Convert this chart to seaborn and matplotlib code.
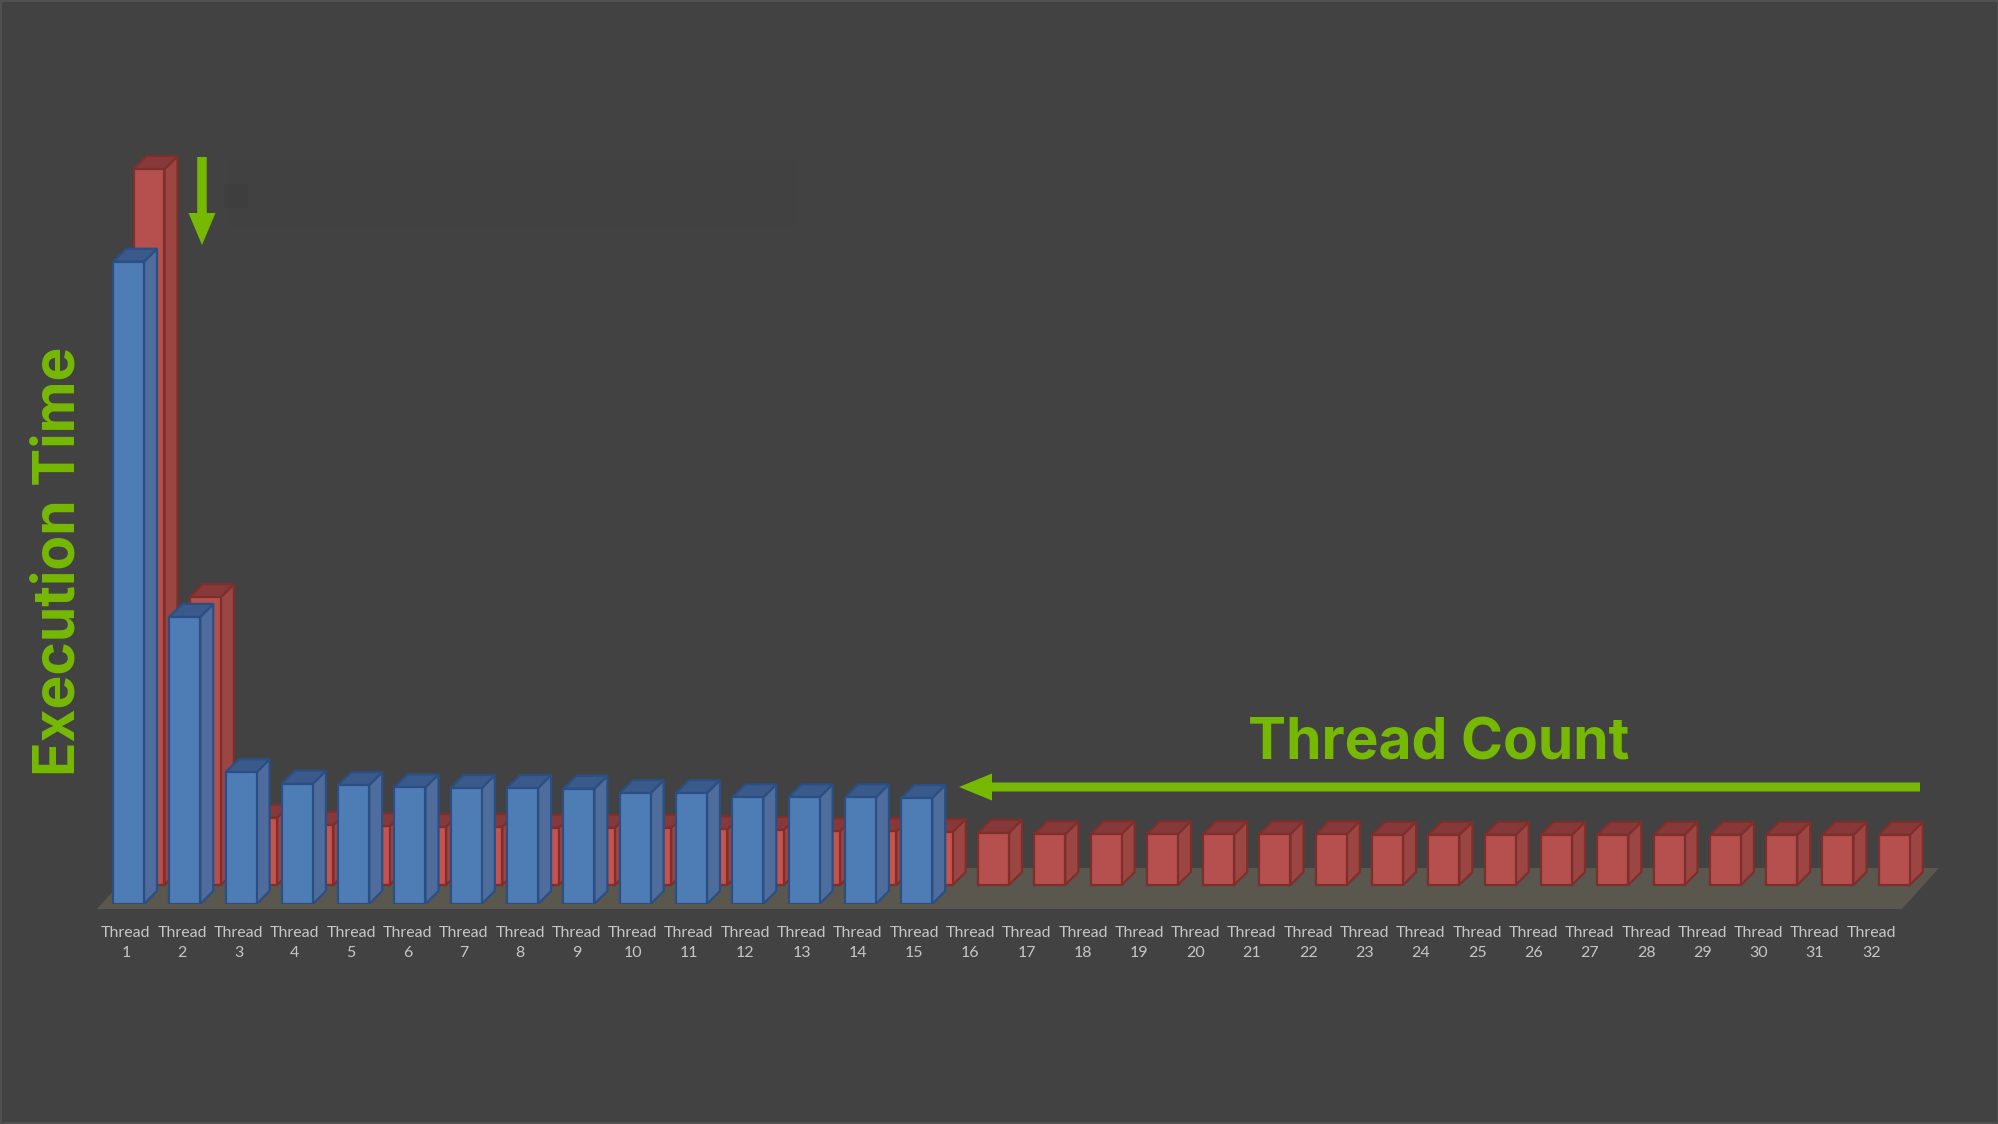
import matplotlib.pyplot as plt
import numpy as np
import pandas as pd
import seaborn as sns
from matplotlib.patches import FancyArrow, Polygon, Rectangle
from matplotlib.transforms import IdentityTransform

WIDTH, HEIGHT, DPI = 1999, 1124, 100

thread_ids = list(range(1, 33))
thread_labels = [f'Thread\n{i}' for i in thread_ids]

# execution time, slowest run = 100
red_times = [100.0, 40.2, 9.4, 8.4, 8.2, 8.1, 8.1, 8.0, 8.0, 8.0, 7.8, 7.7, 7.5, 7.5, 7.4, 7.3,
             7.1, 7.1, 7.1, 7.1, 7.1, 7.1, 7.0, 7.0, 7.0, 7.0, 7.0, 7.0, 7.0, 7.0, 7.0, 7.0]
blue_times = [89.7, 40.1, 18.4, 16.8, 16.6, 16.3, 16.2, 16.2, 16.1, 15.5, 15.5, 14.9, 14.9, 14.9, 14.8]

# layout of the fake 3d look, in pixels of the final image
PX_PER_UNIT = 7.16
PITCH = 56.3
FIRST_CENTER = 128.5
BASE_Y = 904
DEPTH_X, DEPTH_Y = 13, 13
RED_SHIFT = 20.5
RED_LIFT = 19

BG = '#424242'
GREEN = '#76b900'
EDGE_W = 1.6


def fx(px):
    return px / WIDTH


def fy(py):
    return 1 - py / HEIGHT


def draw_depth(ax, bars, side, top, edge, zorder):
    # side and top faces behind each front face
    dx = DEPTH_X / PITCH
    dy = DEPTH_Y / PX_PER_UNIT
    for bar in bars:
        x0, x1 = bar.get_x(), bar.get_x() + bar.get_width()
        y0, y1 = bar.get_y(), bar.get_y() + bar.get_height()
        side_pts = [(x1, y0), (x1 + dx, y0 + dy), (x1 + dx, y1 + dy), (x1, y1)]
        top_pts = [(x0, y1), (x0 + dx, y1 + dy), (x1 + dx, y1 + dy), (x1, y1)]
        ax.add_patch(Polygon(side_pts, fc=side, ec=edge, lw=EDGE_W, zorder=zorder))
        ax.add_patch(Polygon(top_pts, fc=top, ec=edge, lw=EDGE_W, zorder=zorder))


sns.set_theme(style='dark', rc={'axes.facecolor': BG, 'figure.facecolor': BG})

fig = plt.figure(figsize=(WIDTH / DPI, HEIGHT / DPI), dpi=DPI)
fig.patch.set_edgecolor('#505050')
fig.patch.set_linewidth(1.5)
ax = fig.add_axes([0, 1 - BASE_Y / HEIGHT, 1, BASE_Y / HEIGHT])
ax.patch.set_visible(False)

red_df = pd.DataFrame({'thread': np.array(thread_ids) + RED_SHIFT / PITCH, 'time': red_times})
blue_df = pd.DataFrame({'thread': thread_ids[:len(blue_times)], 'time': blue_times})

bar_width = 31 / PITCH
sns.barplot(data=red_df, x='thread', y='time', native_scale=True, width=bar_width, errorbar=None,
            color='#b5504e', saturation=1, edgecolor='#7e2f2c', linewidth=EDGE_W, ax=ax,
            bottom=RED_LIFT / PX_PER_UNIT, zorder=3)
red_bars = ax.containers[-1]
sns.barplot(data=blue_df, x='thread', y='time', native_scale=True, width=bar_width, errorbar=None,
            color='#4e7db6', saturation=1, edgecolor='#2b4f82', linewidth=EDGE_W, ax=ax, zorder=5)
blue_bars = ax.containers[-1]

draw_depth(ax, red_bars, '#9c4644', '#87393a', '#7e2f2c', 2)
draw_depth(ax, blue_bars, '#4f6d9c', '#3a5a8c', '#2b4f82', 4)

# the red bars hidden behind the blue ones look brighter
for bar in list(red_bars)[2:len(blue_times)]:
    bar.set_facecolor('#c5544f')

ax.set_xlim(1 - FIRST_CENTER / PITCH, 1 + (WIDTH - FIRST_CENTER) / PITCH)
ax.set_ylim(0, BASE_Y / PX_PER_UNIT)

# floor of the chart
floor_left, floor_right = 1 + (97 - FIRST_CENTER) / PITCH, 1 + (1902 - FIRST_CENTER) / PITCH
floor_slant = 37 / PITCH
floor_low = -5 / PX_PER_UNIT
floor_high = (BASE_Y - 868) / PX_PER_UNIT
ax.add_patch(Polygon([(floor_left, floor_low), (floor_right, floor_low),
                      (floor_right + floor_slant, floor_high), (floor_left + floor_slant, floor_high)],
                     fc='#5a574f', ec='none', zorder=1, clip_on=False))

ax.set_xticks(np.array(thread_ids) - 0.045)
ax.set_xticklabels(thread_labels, fontfamily='Lato', fontsize=11.5, color='#c6c6c6', linespacing=1.55)
ax.tick_params(axis='x', length=0, pad=16)
ax.set_yticks([])
ax.set_xlabel('')
ax.set_ylabel('')
ax.grid(False)
sns.despine(ax=ax, left=True, bottom=True)

# faded leftovers of the legend
fig.add_artist(Rectangle((fx(228), fy(226)), fx(570), 66 / HEIGHT, fc='#3e3e3e', ec='none', alpha=0.2))
fig.add_artist(Rectangle((fx(224), fy(208)), fx(24), 24 / HEIGHT, fc='#393939', ec='none', alpha=0.3))

# green annotations
fig.add_artist(FancyArrow(202, HEIGHT - 157, 0, -88, width=9.5, head_width=27, head_length=32,
                          length_includes_head=True, fc=GREEN, ec='none', transform=IdentityTransform()))
fig.add_artist(FancyArrow(1920, HEIGHT - 787, -961, 0, width=9, head_width=27, head_length=33,
                          length_includes_head=True, fc=GREEN, ec='none', transform=IdentityTransform()))

fig.text(fx(1439), fy(745), 'Thread Count', color=GREEN, fontfamily='Inter', fontweight='bold',
         fontsize=41, ha='center', va='center')
fig.text(fx(60), fy(561), 'Execution Time', color=GREEN, fontfamily='Inter', fontweight='bold',
         fontsize=41, rotation=90, ha='center', va='center')

fig.savefig('out.png', dpi=DPI)
